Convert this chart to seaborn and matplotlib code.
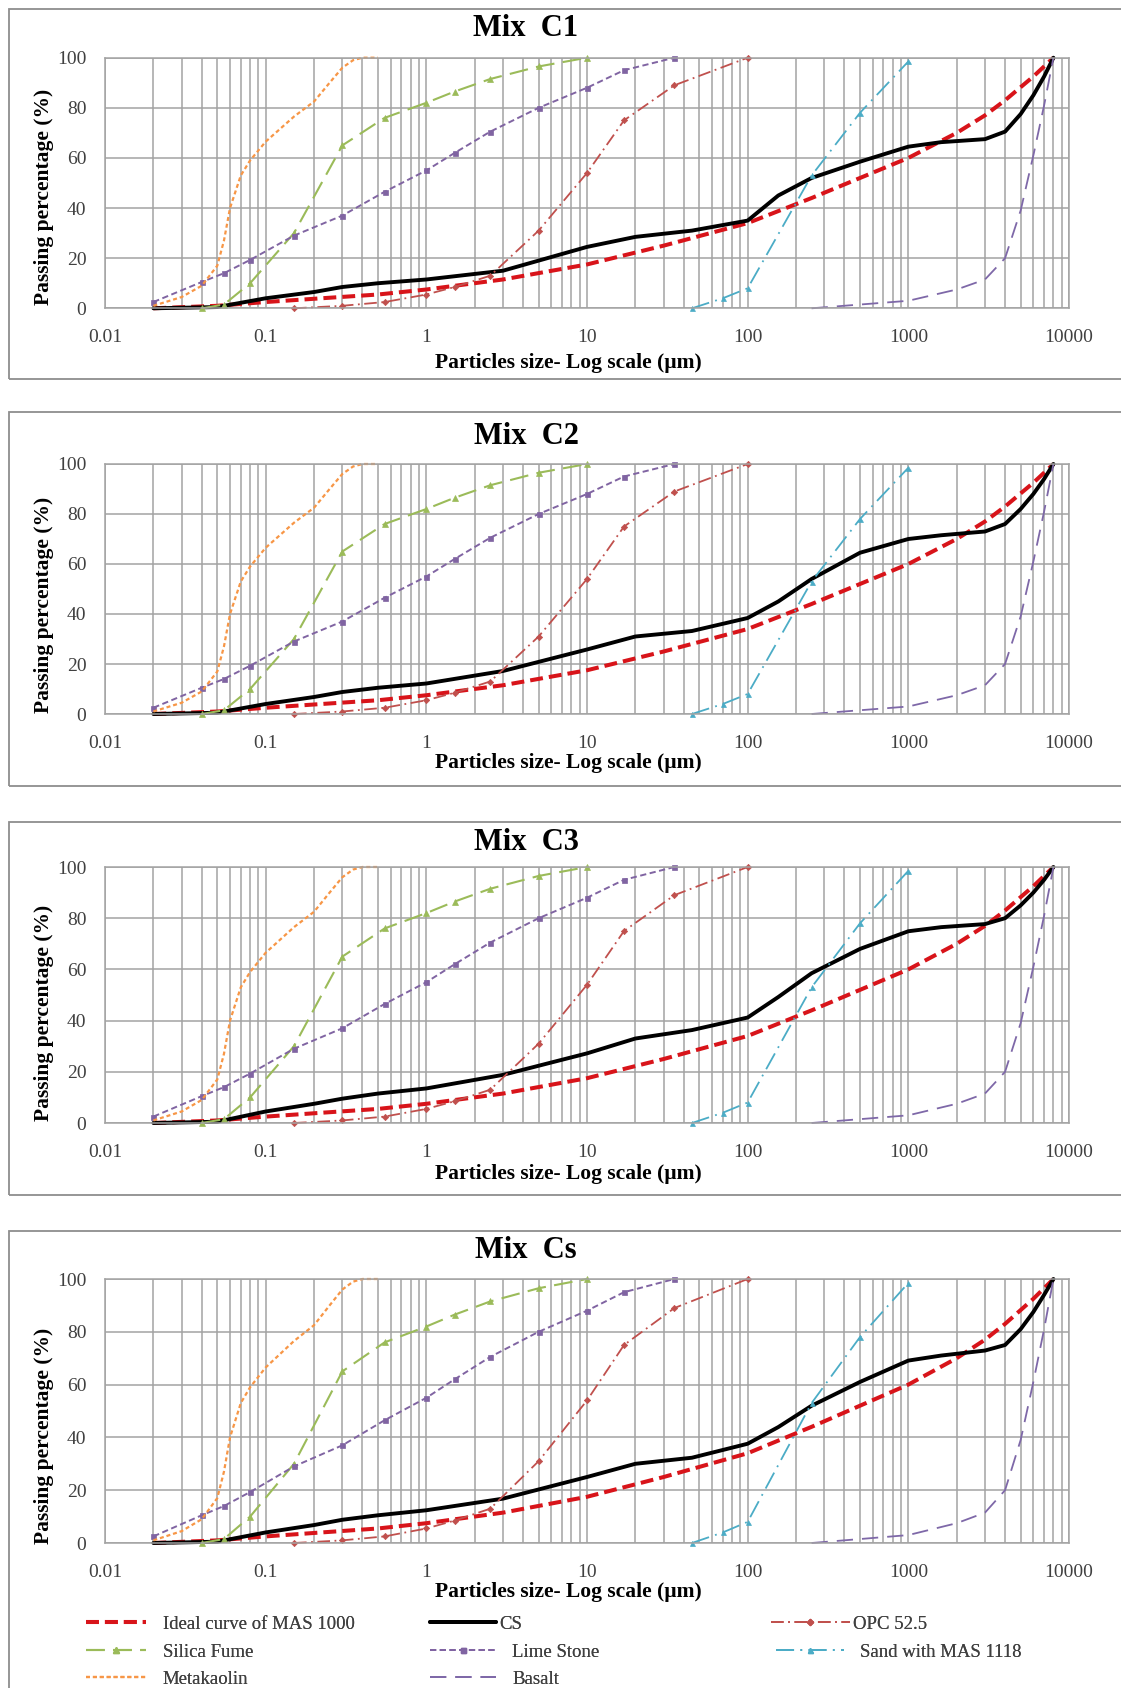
import matplotlib
matplotlib.use("Agg")
import matplotlib.pyplot as plt
import seaborn as sns
from matplotlib.lines import Line2D
from matplotlib.patches import Rectangle
from matplotlib.ticker import FixedLocator, LogLocator, NullFormatter

# ---------------- data ----------------
panel_titles = ["Mix  C1", "Mix  C2", "Mix  C3", "Mix  Cs"]
x_ticks = [0.01, 0.1, 1, 10, 100, 1000, 10000]
x_tick_labels = ["0.01", "0.1", "1", "10", "100", "1000", "10000"]
y_ticks = [0, 20, 40, 60, 80, 100]

ideal_x = [0.02, 0.05, 0.1, 0.2, 0.5, 1, 3, 10, 30, 100, 250, 500, 1000, 2000, 3000, 4000, 6000, 8000]
ideal_y = [0, 1, 2.5, 3.8, 5.5, 7.5, 11.5, 17.5, 25, 34, 44, 52, 60, 70, 77, 83, 92.5, 100]

cs_x = [0.02, 0.05, 0.1, 0.2, 0.3, 0.5, 1, 3, 10, 20, 45, 100, 155, 250, 500,
        1000, 1600, 3000, 4000, 5000, 6000, 7000, 8000]
cs_c1 = [0, 0.5, 4, 6.5, 8.5, 10, 11.5, 15, 24.5, 28.5, 31, 35, 45, 52, 58.5,
         64.5, 66.3, 67.5, 70.5, 77.5, 85, 92.5, 100]
cs_c2 = [0, 0.5, 4, 6.8, 8.8, 10.5, 12.2, 17.2, 25.8, 31, 33.2, 38.4, 45, 54, 64.5,
         70, 71.5, 73, 76, 82, 88, 94, 100]
cs_c3 = [0, 0.5, 4.5, 7.5, 9.5, 11.5, 13.5, 18.8, 27.2, 33, 36.3, 41.2, 49.2, 58.5, 68,
         74.9, 76.5, 77.7, 80, 85, 90, 95, 100]
cs_cs = [0, 0.5, 4, 6.8, 8.8, 10.5, 12.4, 16.8, 25, 30, 32.3, 37.6, 43.9, 52, 61,
         69.1, 71, 72.9, 75, 81, 87.5, 94, 100]
cs_panels = [cs_c1, cs_c2, cs_c3, cs_cs]

opc_x = [0.15, 0.3, 0.55, 1, 1.5, 2.5, 5, 10, 17, 35, 100]
opc_y = [0, 1, 2.5, 5.5, 8.5, 13, 31, 54, 75, 89, 100]

silica_x = [0.04, 0.055, 0.08, 0.15, 0.3, 0.55, 1, 1.5, 2.5, 5, 10]
silica_y = [0, 1.5, 10, 30, 65, 76, 82, 86.5, 91.5, 96.5, 100]

lime_x = [0.02, 0.04, 0.055, 0.08, 0.15, 0.3, 0.55, 1, 1.5, 2.5, 5, 10, 17, 35]
lime_y = [2.5, 10.5, 14, 19.3, 29, 37, 46.5, 55, 62, 70.5, 80, 88, 95, 100]

sand_x = [45, 70, 100, 250, 500, 1000]
sand_y = [0, 4, 8, 53, 78, 98.5]

meta_x = [0.02, 0.03, 0.04, 0.05, 0.055, 0.06, 0.07, 0.08, 0.1, 0.15, 0.2, 0.25, 0.3, 0.35, 0.4, 0.5]
meta_y = [1, 4.5, 9, 17, 27, 40, 53, 59, 66.5, 76.5, 82.5, 90, 96, 99, 100, 100]

basalt_x = [250, 500, 1000, 2000, 3000, 4000, 5000, 6000, 7000, 8000]
basalt_y = [0, 1.5, 3, 7.5, 11.5, 20, 39, 61, 81, 100]

legend_labels = ["Ideal curve of MAS 1000", "CS", "OPC 52.5", "Silica Fume",
                 "Lime Stone", "Sand with MAS 1118", "Metakaolin", "Basalt"]

# ---------------- styles ----------------
RED = "#D8141A"
styles = {
    "ideal": dict(color=RED, linewidth=2.9, linestyle=(0, (3.2, 1.5))),
    "cs": dict(color="black", linewidth=2.8, linestyle="-"),
    "opc": dict(color="#C0504D", linewidth=1.3, linestyle=(0, (7, 2.5, 1, 2.5)),
                marker="D", markersize=3.2),
    "silica": dict(color="#9BBB59", linewidth=1.5, linestyle=(0, (9, 4)),
                   marker="^", markersize=4),
    "lime": dict(color="#8064A2", linewidth=1.4, linestyle=(0, (3.2, 1.8)),
                 marker="s", markersize=3.6),
    "sand": dict(color="#4BACC6", linewidth=1.3, linestyle=(0, (10, 3.5, 1, 3.5)),
                 marker="^", markersize=3.6),
    "meta": dict(color="#F79646", linewidth=1.6, linestyle=(0, (1.8, 1.3))),
    "basalt": dict(color="#7E68A8", linewidth=1.3, linestyle=(0, (9, 5))),
}

sns.set_style("white")
plt.rcParams["font.family"] = ["Liberation Serif", "DejaVu Serif"]

W, H = 1121, 1688
fig = plt.figure(figsize=(W / 100, H / 100), dpi=100)


def fx(x):
    return x / W


def fy(y):
    return 1 - y / H


AX_L, AX_R = 105, 1069
axes_px = [(57.7, 308.3), (464, 714), (867, 1123), (1279, 1543)]
box_px = [(8.6, 379), (412, 786), (822, 1195), (1231, 1700)]
title_y = [29, 436, 843, 1250]
xlabel_y = [363, 763, 1174, 1592]
ylabel_y = [197, 605, 1013, 1436]

GRID = "#A3A3A3"


def draw(ax, x, y, key):
    st = dict(styles[key])
    kw = dict(color=st["color"], linewidth=st["linewidth"], linestyle=st["linestyle"],
              clip_on=False)
    if "marker" in st:
        kw.update(marker=st["marker"], markersize=st["markersize"],
                  markeredgecolor=st["color"], markerfacecolor=st["color"],
                  markeredgewidth=0.5)
    sns.lineplot(x=x, y=y, ax=ax, estimator=None, sort=False, errorbar=None, **kw)


for i in range(4):
    top, bot = axes_px[i]
    # panel frame
    bt, bb = box_px[i]
    fig.patches.append(Rectangle((fx(9), fy(bb)), fx(1140) - fx(9), fy(bt) - fy(bb),
                                 transform=fig.transFigure, fill=False,
                                 edgecolor="#8E8E8E", linewidth=1.3, zorder=0))
    ax = fig.add_axes([fx(AX_L), fy(bot), fx(AX_R) - fx(AX_L), fy(top) - fy(bot)])
    ax.set_xscale("log")
    ax.set_xlim(0.01, 10000)
    ax.set_ylim(0, 100)

    draw(ax, ideal_x, ideal_y, "ideal")
    draw(ax, cs_x, cs_panels[i], "cs")
    draw(ax, opc_x, opc_y, "opc")
    draw(ax, silica_x, silica_y, "silica")
    draw(ax, lime_x, lime_y, "lime")
    draw(ax, sand_x, sand_y, "sand")
    draw(ax, meta_x, meta_y, "meta")
    draw(ax, basalt_x, basalt_y, "basalt")

    ax.xaxis.set_major_locator(FixedLocator(x_ticks))
    ax.set_xticklabels(x_tick_labels)
    ax.xaxis.set_minor_locator(LogLocator(base=10, subs=[2, 3, 4, 5, 6, 7, 8, 9], numticks=20))
    ax.xaxis.set_minor_formatter(NullFormatter())
    ax.yaxis.set_major_locator(FixedLocator(y_ticks))
    ax.set_yticklabels([str(v) for v in y_ticks])
    ax.grid(True, which="major", axis="both", color=GRID, linewidth=1.1)
    ax.grid(True, which="minor", axis="x", color=GRID, linewidth=1.1)
    ax.set_axisbelow(True)
    for sp in ax.spines.values():
        sp.set_color(GRID)
        sp.set_linewidth(1.1)
    ax.tick_params(axis="both", which="major", length=5, width=1.1, color="#8C8C8C",
                   labelsize=14, labelcolor="#404040", direction="out")
    ax.tick_params(axis="x", which="major", pad=10)
    ax.tick_params(axis="y", which="major", pad=8.5)
    ax.tick_params(axis="both", which="minor", length=0)
    ax.set_xlabel("")
    ax.set_ylabel("")

    fig.text(fx(526), fy(title_y[i]), panel_titles[i], ha="center", va="center",
             fontsize=22, fontweight="bold", color="black")
    fig.text(fx(568), fy(xlabel_y[i]), "Particles size- Log scale (\u00b5m)",
             ha="center", va="center", fontsize=15.5, fontweight="bold", color="black")
    fig.text(fx(44), fy(ylabel_y[i]), "Passing percentage (%)", ha="center", va="center",
             rotation=90, fontsize=15.5, fontweight="bold", color="black")

# ---------------- legend (one entry per slot) ----------------
def handle(key):
    st = styles[key]
    kw = dict(color=st["color"], linewidth=st["linewidth"], linestyle=st["linestyle"])
    if "marker" in st:
        kw.update(marker=st["marker"], markersize=st["markersize"],
                  markeredgecolor=st["color"], markerfacecolor=st["color"])
    return Line2D([0], [0], **kw)


legend_slots = [
    ("ideal", legend_labels[0], 86, 1624, 3.2, 0.9),
    ("cs", legend_labels[1], 430, 1624, 3.5, 0.2),
    ("opc", legend_labels[2], 771, 1624, 4.2, 0.15),
    ("silica", legend_labels[3], 86, 1652, 3.2, 0.9),
    ("lime", legend_labels[4], 430, 1652, 3.5, 0.9),
    ("sand", legend_labels[5], 776, 1652, 3.6, 0.9),
    ("meta", legend_labels[6], 86, 1679, 3.2, 0.9),
    ("basalt", legend_labels[7], 430, 1679, 3.5, 0.9),
]
for key, lab, xpx, ypx, hl, tp in legend_slots:
    leg = fig.legend([handle(key)], [lab], loc="center left",
                     bbox_to_anchor=(fx(xpx), fy(ypx)), bbox_transform=fig.transFigure,
                     frameon=False, borderpad=0, borderaxespad=0, handlelength=hl,
                     handletextpad=tp, fontsize=13.5, labelcolor="#404040")
    fig.add_artist(leg)

fig.savefig("out.png", dpi=100)
